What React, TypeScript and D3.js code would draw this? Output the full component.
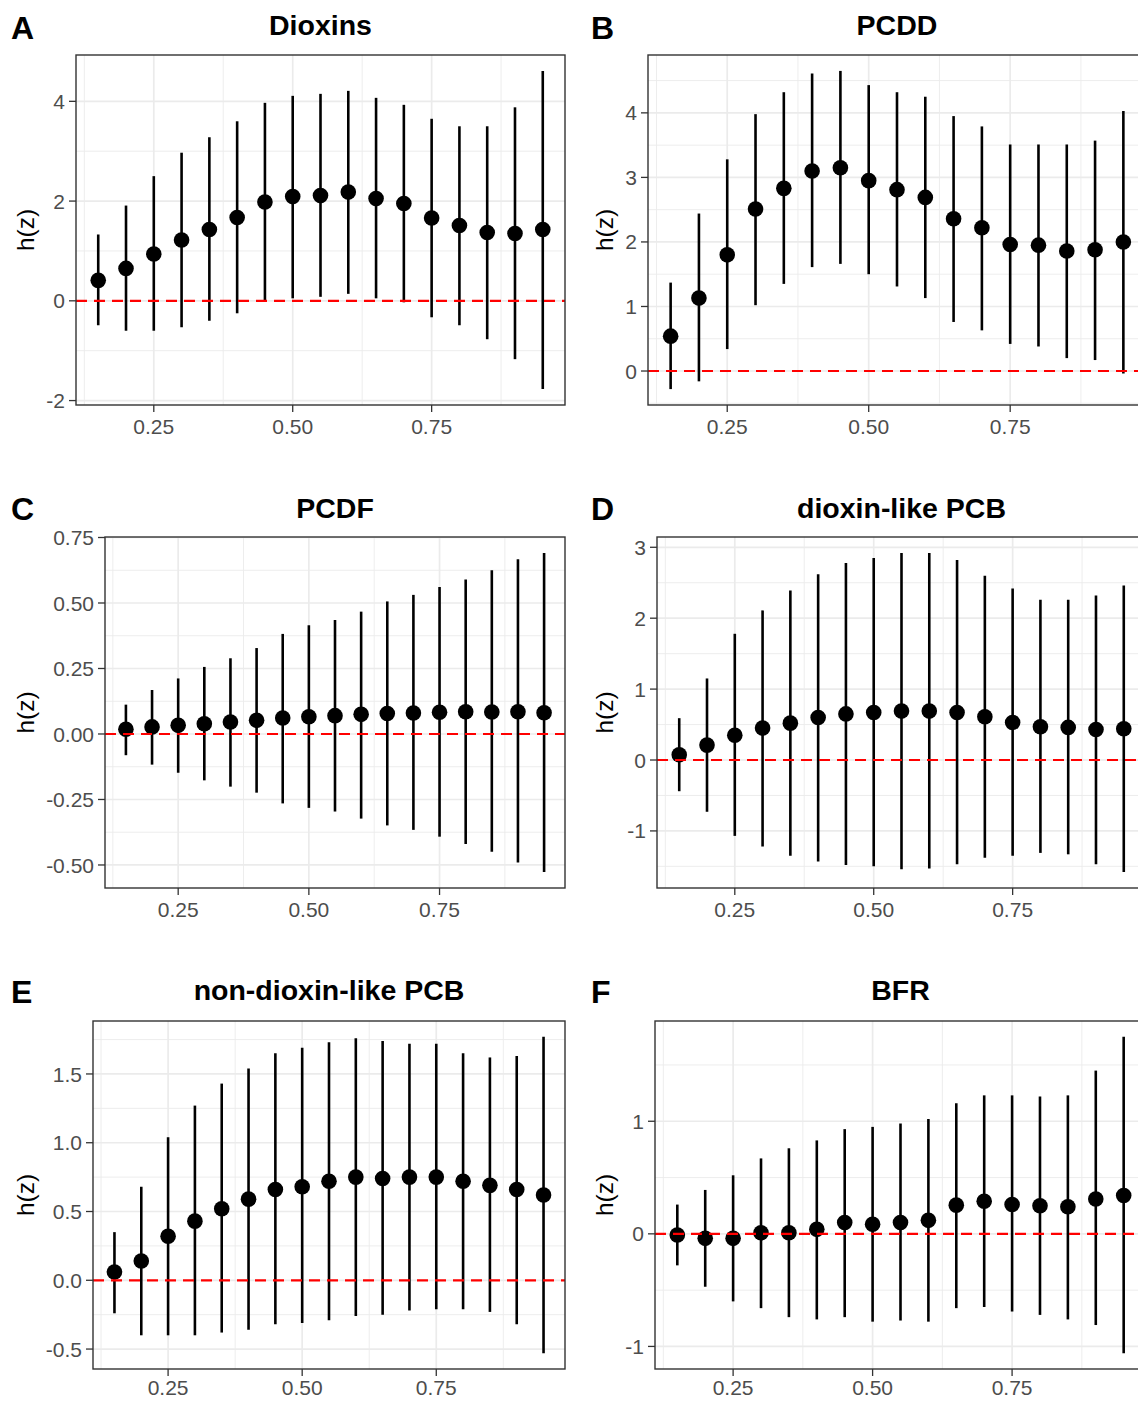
import React from "react";
import * as d3 from "d3";

// ---------------- DATA ----------------
const xValues = [0.15, 0.2, 0.25, 0.3, 0.35, 0.4, 0.45, 0.5, 0.55, 0.6, 0.65, 0.7, 0.75, 0.8, 0.85, 0.9, 0.95];
const xTicks = [0.25, 0.5, 0.75];
const xTickLabels = ["0.25", "0.50", "0.75"];

// A: Dioxins
const estA = [0.41, 0.65, 0.94, 1.22, 1.43, 1.67, 1.98, 2.09, 2.11, 2.18, 2.05, 1.95, 1.66, 1.51, 1.37, 1.35, 1.43];
const lowA = [-0.49, -0.6, -0.6, -0.53, -0.4, -0.25, 0.01, 0.05, 0.08, 0.14, 0.05, -0.03, -0.33, -0.49, -0.77, -1.17, -1.77];
const upA = [1.33, 1.91, 2.5, 2.97, 3.28, 3.6, 3.97, 4.11, 4.15, 4.21, 4.07, 3.93, 3.65, 3.5, 3.5, 3.88, 4.61];
const yTicksA = [-2, 0, 2, 4];
const yLabelsA = ["-2", "0", "2", "4"];

// B: PCDD
const estB = [0.54, 1.13, 1.8, 2.51, 2.83, 3.1, 3.15, 2.95, 2.81, 2.69, 2.36, 2.22, 1.96, 1.95, 1.86, 1.88, 2.0];
const lowB = [-0.28, -0.16, 0.34, 1.02, 1.35, 1.61, 1.66, 1.5, 1.31, 1.13, 0.76, 0.63, 0.42, 0.38, 0.2, 0.17, -0.04];
const upB = [1.37, 2.44, 3.28, 3.98, 4.32, 4.61, 4.65, 4.43, 4.32, 4.25, 3.95, 3.79, 3.51, 3.51, 3.51, 3.57, 4.03];
const yTicksB = [0, 1, 2, 3, 4];
const yLabelsB = ["0", "1", "2", "3", "4"];

// C: PCDF
const estC = [0.018, 0.027, 0.033, 0.039, 0.046, 0.052, 0.061, 0.066, 0.07, 0.075, 0.078, 0.08, 0.083, 0.085, 0.084, 0.085, 0.081];
const lowC = [-0.081, -0.117, -0.148, -0.177, -0.201, -0.224, -0.265, -0.282, -0.296, -0.323, -0.349, -0.366, -0.392, -0.42, -0.45, -0.491, -0.527];
const upC = [0.112, 0.168, 0.212, 0.256, 0.289, 0.328, 0.382, 0.415, 0.435, 0.467, 0.506, 0.531, 0.561, 0.59, 0.625, 0.667, 0.691];
const yTicksC = [-0.5, -0.25, 0, 0.25, 0.5, 0.75];
const yLabelsC = ["-0.50", "-0.25", "0.00", "0.25", "0.50", "0.75"];

// D: dioxin-like PCB
const estD = [0.075, 0.21, 0.35, 0.45, 0.52, 0.6, 0.65, 0.67, 0.69, 0.69, 0.67, 0.61, 0.53, 0.47, 0.46, 0.43, 0.44];
const lowD = [-0.44, -0.73, -1.07, -1.22, -1.35, -1.43, -1.48, -1.5, -1.54, -1.53, -1.47, -1.38, -1.35, -1.31, -1.33, -1.47, -1.58];
const upD = [0.59, 1.15, 1.78, 2.11, 2.39, 2.62, 2.78, 2.85, 2.92, 2.92, 2.82, 2.6, 2.42, 2.26, 2.26, 2.32, 2.46];
const yTicksD = [-1, 0, 1, 2, 3];
const yLabelsD = ["-1", "0", "1", "2", "3"];

// E: non-dioxin-like PCB
const estE = [0.06, 0.14, 0.32, 0.43, 0.52, 0.59, 0.66, 0.68, 0.72, 0.75, 0.74, 0.75, 0.75, 0.72, 0.69, 0.66, 0.62];
const lowE = [-0.24, -0.4, -0.4, -0.4, -0.38, -0.36, -0.32, -0.31, -0.29, -0.26, -0.25, -0.22, -0.21, -0.21, -0.23, -0.32, -0.53];
const upE = [0.35, 0.68, 1.04, 1.27, 1.43, 1.54, 1.65, 1.69, 1.73, 1.76, 1.74, 1.72, 1.72, 1.65, 1.62, 1.63, 1.77];
const yTicksE = [-0.5, 0, 0.5, 1, 1.5];
const yLabelsE = ["-0.5", "0.0", "0.5", "1.0", "1.5"];

// F: BFR
const estF = [-0.01, -0.04, -0.04, 0.01, 0.01, 0.04, 0.1, 0.085, 0.1, 0.12, 0.255, 0.29, 0.26, 0.25, 0.24, 0.31, 0.34];
const lowF = [-0.28, -0.47, -0.6, -0.66, -0.74, -0.76, -0.74, -0.78, -0.77, -0.78, -0.66, -0.65, -0.69, -0.72, -0.76, -0.81, -1.06];
const upF = [0.26, 0.39, 0.52, 0.67, 0.76, 0.83, 0.93, 0.95, 0.98, 1.02, 1.16, 1.23, 1.23, 1.22, 1.23, 1.45, 1.75];
const yTicksF = [-1, 0, 1];
const yLabelsF = ["-1", "0", "1"];

const panelLetters = ["A", "B", "C", "D", "E", "F"];
const panelTitles = ["Dioxins", "PCDD", "PCDF", "dioxin-like PCB", "non-dioxin-like PCB", "BFR"];
const yAxisTitle = "h(z)";

// ---------------- LAYOUT ----------------
const W = 1138;
const H = 1402;
const FONT = "'Liberation Sans', Arial, Helvetica, sans-serif";

const layouts = [
  { left: 76, right: 565, top: 55, bottom: 405, labelX: 11, labelY: 39, titleY: 35, axisTitleX: 25, xLabOff: 29 },
  { left: 648, right: 1146, top: 55, bottom: 405, labelX: 591, labelY: 39, titleY: 35, axisTitleX: 604, xLabOff: 29 },
  { left: 105, right: 565, top: 537, bottom: 888, labelX: 11, labelY: 520, titleY: 518, axisTitleX: 25, xLabOff: 29 },
  { left: 657, right: 1146, top: 537, bottom: 888, labelX: 591, labelY: 520, titleY: 518, axisTitleX: 604, xLabOff: 29 },
  { left: 93, right: 565, top: 1021, bottom: 1369, labelX: 11, labelY: 1003, titleY: 1000, axisTitleX: 25, xLabOff: 26 },
  { left: 655, right: 1146, top: 1021, bottom: 1369, labelX: 591, labelY: 1003, titleY: 1000, axisTitleX: 604, xLabOff: 26 },
];

const panelData = [
  { est: estA, low: lowA, up: upA, yTicks: yTicksA, yLabels: yLabelsA },
  { est: estB, low: lowB, up: upB, yTicks: yTicksB, yLabels: yLabelsB },
  { est: estC, low: lowC, up: upC, yTicks: yTicksC, yLabels: yLabelsC },
  { est: estD, low: lowD, up: upD, yTicks: yTicksD, yLabels: yLabelsD },
  { est: estE, low: lowE, up: upE, yTicks: yTicksE, yLabels: yLabelsE },
  { est: estF, low: lowF, up: upF, yTicks: yTicksF, yLabels: yLabelsF },
];

const GRID = "#EBEBEB";
const BORDER = "#333333";
const TICKTXT = "#4D4D4D";
const TICKLEN = 7;
const TICKFONT = 21;

function expand(lo: number, hi: number, f = 0.05): [number, number] {
  const r = hi - lo;
  return [lo - r * f, hi + r * f];
}

function Panel({ idx }: { idx: number }) {
  const L = layouts[idx];
  const D = panelData[idx];
  const xExt = d3.extent(xValues) as [number, number];
  const x = d3.scaleLinear().domain(expand(xExt[0], xExt[1])).range([L.left, L.right]);
  const yLo = d3.min(D.low) as number;
  const yHi = d3.max(D.up) as number;
  const yDom = expand(yLo, yHi);
  const y = d3.scaleLinear().domain(yDom).range([L.bottom, L.top]);

  const yStep = D.yTicks[1] - D.yTicks[0];
  const yMinor: number[] = [];
  for (let i = -1; i < D.yTicks.length; i++) {
    const v = D.yTicks[0] + (i + 0.5) * yStep;
    if (v > yDom[0] && v < yDom[1]) yMinor.push(v);
  }
  const xStep = xTicks[1] - xTicks[0];
  const xMinor: number[] = [];
  for (let i = -1; i < xTicks.length; i++) {
    const v = xTicks[0] + (i + 0.5) * xStep;
    const dom = x.domain();
    if (v > dom[0] && v < dom[1]) xMinor.push(v);
  }

  const clipId = `clip-${idx}`;
  const cy = (L.top + L.bottom) / 2;
  const cx = (L.left + L.right) / 2;

  return (
    <g>
      <defs>
        <clipPath id={clipId}>
          <rect x={L.left} y={L.top} width={L.right - L.left} height={L.bottom - L.top} />
        </clipPath>
      </defs>
      <rect x={L.left} y={L.top} width={L.right - L.left} height={L.bottom - L.top} fill="#FFFFFF" />
      <g clipPath={`url(#${clipId})`}>
        {yMinor.map((v) => (
          <line key={`ym${v}`} x1={L.left} x2={L.right} y1={y(v)} y2={y(v)} stroke={GRID} strokeWidth={0.9} />
        ))}
        {xMinor.map((v) => (
          <line key={`xm${v}`} x1={x(v)} x2={x(v)} y1={L.top} y2={L.bottom} stroke={GRID} strokeWidth={0.9} />
        ))}
        {D.yTicks.map((v) => (
          <line key={`yg${v}`} x1={L.left} x2={L.right} y1={y(v)} y2={y(v)} stroke={GRID} strokeWidth={1.7} />
        ))}
        {xTicks.map((v) => (
          <line key={`xg${v}`} x1={x(v)} x2={x(v)} y1={L.top} y2={L.bottom} stroke={GRID} strokeWidth={1.7} />
        ))}
        {xValues.map((xv, i) => (
          <line key={`e${i}`} x1={x(xv)} x2={x(xv)} y1={y(D.low[i])} y2={y(D.up[i])} stroke="#000" strokeWidth={2.6} />
        ))}
        {xValues.map((xv, i) => (
          <circle key={`p${i}`} cx={x(xv)} cy={y(D.est[i])} r={7.8} fill="#000" />
        ))}
        <line x1={L.left} x2={L.right} y1={y(0)} y2={y(0)} stroke="#FF0000" strokeWidth={2.2} strokeDasharray="11 7" />
      </g>
      <rect x={L.left} y={L.top} width={L.right - L.left} height={L.bottom - L.top} fill="none" stroke={BORDER} strokeWidth={1.4} />
      {D.yTicks.map((v, i) => (
        <g key={`yt${v}`}>
          <line x1={L.left - TICKLEN} x2={L.left} y1={y(v)} y2={y(v)} stroke={BORDER} strokeWidth={1.3} />
          <text x={L.left - TICKLEN - 4} y={y(v)} dy="0.36em" textAnchor="end" fontFamily={FONT} fontSize={TICKFONT} fill={TICKTXT}>
            {D.yLabels[i]}
          </text>
        </g>
      ))}
      {xTicks.map((v, i) => (
        <g key={`xt${v}`}>
          <line x1={x(v)} x2={x(v)} y1={L.bottom} y2={L.bottom + TICKLEN} stroke={BORDER} strokeWidth={1.3} />
          <text x={x(v)} y={L.bottom + L.xLabOff} textAnchor="middle" fontFamily={FONT} fontSize={TICKFONT} fill={TICKTXT}>
            {xTickLabels[i]}
          </text>
        </g>
      ))}
      <text
        transform={`translate(${L.axisTitleX},${cy}) rotate(-90)`}
        dy="0.35em"
        textAnchor="middle"
        fontFamily={FONT}
        fontSize={24.5}
        fill="#000"
      >
        {yAxisTitle}
      </text>
      <text x={cx} y={L.titleY} textAnchor="middle" fontFamily={FONT} fontSize={28.5} fontWeight="bold" fill="#000">
        {panelTitles[idx]}
      </text>
      <text x={L.labelX} y={L.labelY} fontFamily={FONT} fontSize={32} fontWeight="bold" fill="#000">
        {panelLetters[idx]}
      </text>
    </g>
  );
}

export default function App() {
  React.useEffect(() => {
    document.body.style.margin = "0";
  }, []);
  return (
    <svg
      width={W}
      height={H}
      viewBox={`0 0 ${W} ${H}`}
      style={{ display: "block", position: "absolute", left: 0, top: 0, background: "#fff" }}
    >
      <rect x={0} y={0} width={W} height={H} fill="#fff" />
      {panelLetters.map((_, i) => (
        <Panel key={i} idx={i} />
      ))}
    </svg>
  );
}
